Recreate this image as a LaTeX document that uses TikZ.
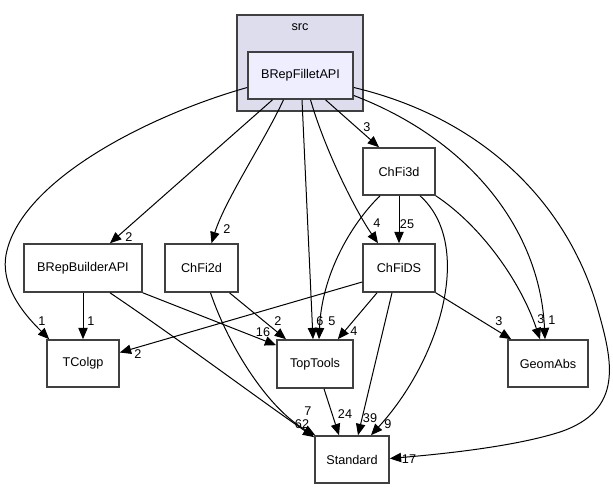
\documentclass[tikz,border=0pt]{standalone}
\usepackage{fontspec}
\setmainfont{Liberation Sans}
\usetikzlibrary{arrows.meta,calc}
\definecolor{clfill}{RGB}{221,221,238}
\definecolor{bffill}{RGB}{238,238,255}
\definecolor{bord}{RGB}{64,64,64}
\begin{document}
\begin{tikzpicture}[x=0.75pt,y=-0.75pt,
  box/.style={draw=bord,line width=1.2pt,fill=white,inner sep=0pt,font=\fontsize{9.5}{11}\selectfont},
  edge/.style={draw=black,line width=0.75pt,-{Triangle[length=8.5pt,width=7pt]}},
  lbl/.style={font=\fontsize{9.5}{11}\selectfont,inner sep=0pt}]
\useasboundingbox (0,0) rectangle (613,489);
% cluster
\node[draw=bord,fill=clfill,line width=1.2pt,minimum width=94.5pt,minimum height=72pt,inner sep=0pt] (src) at (300,63) {};
\node[lbl] (srclbl) at (300,27) {src};
% nodes
\node[box,fill=bffill,minimum width=78.75pt,minimum height=35.25pt] (BF) at (300.5,75.5) {BRepFilletAPI};
\node[box,minimum width=54pt,minimum height=35.25pt] (C3) at (399,171.5) {ChFi3d};
\node[box,minimum width=54pt,minimum height=36pt] (CD) at (399,268) {ChFiDS};
\node[box,minimum width=60pt,minimum height=35.25pt] (GA) at (548,363.5) {GeomAbs};
\node[box,minimum width=88.5pt,minimum height=36pt] (BB) at (83,268) {BRepBuilderAPI};
\node[box,minimum width=54.75pt,minimum height=36pt] (C2) at (201.5,268) {ChFi2d};
\node[box,minimum width=54pt,minimum height=35.25pt] (TC) at (83,363.5) {TColgp};
\node[box,minimum width=57pt,minimum height=36pt] (TT) at (315,364) {TopTools};
\node[box,minimum width=55.5pt,minimum height=35.25pt] (ST) at (352,459.5) {Standard};
% edges from BRepFilletAPI
\draw[edge] ($(BF.west)+(0,12)$) .. controls (150,115) and (20,180) .. (6,255) .. controls (0,290) and (30,320) .. ($(TC.north west)+(3,0)$);
\draw[edge] ($(BF.south)+(-28,0)$) -- ($(BB.north)+(27,0)$);
\draw[edge] ($(BF.south)+(-17,0)$) .. controls (265,140) and (225,200) .. ($(C2.north)+(10,0)$);
\draw[edge] ($(BF.south)+(1.5,0)$) -- ($(TT.north)+(-2,0)$);
\draw[edge] ($(BF.south)+(10,0)$) .. controls (325,150) and (355,210) .. ($(CD.north)+(-21,0)$);
\draw[edge] ($(BF.south)+(25,0)$) -- ($(C3.north)+(-20,0)$);
\draw[edge] ($(BF.east)+(0,20)$) .. controls (470,140) and (540,230) .. ($(GA.north)+(-3,0)$);
\draw[edge] ($(BF.east)+(0,12)$) .. controls (490,120) and (570,210) .. (598,310) .. controls (612,360) and (625,410) .. (560,432) .. controls (510,448) and (430,455) .. ($(ST.east)+(0,-1)$);
% edges from ChFi3d
\draw[edge] (C3.south) -- (CD.north);
\draw[edge] ($(C3.south)+(-19,0)$) .. controls (355,220) and (322,270) .. ($(TT.north)+(4,0)$);
\draw[edge] (C3.south east) .. controls (480,225) and (520,280) .. ($(GA.north)+(-8,0)$);
\draw[edge] ($(C3.south)+(21,0)$) .. controls (475,245) and (440,360) .. ($(ST.north)+(19,0)$);
% edges from BRepBuilderAPI
\draw[edge] (BB.south) -- (TC.north);
\draw[edge] (BB.south east) -- ($(TT.north west)+(0,6)$);
\draw[edge] ($(BB.south)+(27,0)$) .. controls (180,340) and (260,400) .. ($(ST.north west)+(0,2)$);
% edges from ChFi2d
\draw[edge] ($(C2.south)+(28,0)$) -- ($(TT.north)+(-29,0)$);
\draw[edge] ($(C2.south)+(9,0)$) .. controls (230,350) and (270,410) .. ($(ST.north west)+(1,0)$);
% edges from ChFiDS
\draw[edge] ($(CD.west)+(0,14)$) -- ($(TC.east)+(0,-11)$);
\draw[edge] ($(CD.south)+(-22,0)$) -- ($(TT.north east)+(-16,0)$);
\draw[edge] (CD.south east) -- ($(GA.north west)+(4,0)$);
\draw[edge] ($(CD.south)+(-7,0)$) -- ($(ST.north)+(6,0)$);
% TopTools -> Standard
\draw[edge] ($(TT.south)+(9,0)$) -- ($(ST.north)+(-13,0)$);
% labels
\node[lbl] (l1) at (42,321) {1};
\node[lbl] (l2) at (129,237) {2};
\node[lbl] (l3) at (227,229) {2};
\node[lbl] (l4) at (320,321) {6};
\node[lbl] (l5) at (377,223) {4};
\node[lbl] (l6) at (367,127) {3};
\node[lbl] (l7) at (552,320) {1};
\node[lbl] (l8) at (409,459) {17};
\node[lbl] (l9) at (407,224) {25};
\node[lbl] (l10) at (332,321) {5};
\node[lbl] (l11) at (541,319) {3};
\node[lbl] (l12) at (388,424) {9};
\node[lbl] (l13) at (91,321) {1};
\node[lbl] (l14) at (263,332) {16};
\node[lbl] (l15) at (302,424) {62};
\node[lbl] (l16) at (278,321) {2};
\node[lbl] (l17) at (308,411) {7};
\node[lbl] (l18) at (138,354) {2};
\node[lbl] (l19) at (354,331) {4};
\node[lbl] (l20) at (499,321) {3};
\node[lbl] (l21) at (370,418) {39};
\node[lbl] (l22) at (345,414) {24};
\end{tikzpicture}
\end{document}
